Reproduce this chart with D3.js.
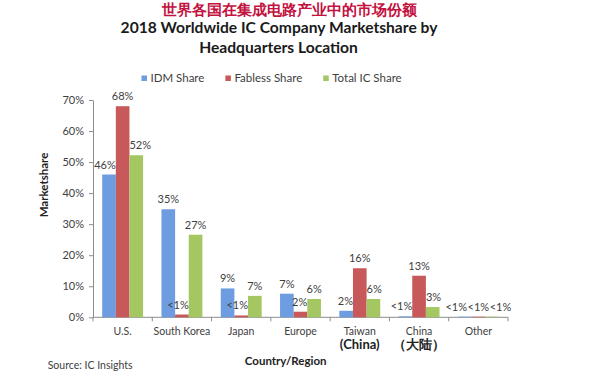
<!DOCTYPE html>
<html>
<head>
<meta charset="utf-8">
<script src="https://cdn.jsdelivr.net/npm/d3@7/dist/d3.min.js"></script>
<style>
  html, body { margin: 0; padding: 0; background: #fff; }
  svg { display: block; }
  text { font-family: Lato, "Liberation Sans", sans-serif; }
</style>
</head>
<body>
<svg id="chart" width="600" height="382"></svg>
<script>
// ---- data ----
const categories = ["U.S.", "South Korea", "Japan", "Europe", "Taiwan", "China", "Other"];
const categorySub = ["", "", "", "", "(China)", "（大陆）", ""];
const seriesNames = ["IDM Share", "Fabless Share", "Total IC Share"];
const idmShare     = [46, 34.8, 9.3, 7.6, 2.1, 0.3, 0.2];
const fablessShare = [68, 0.9, 0.6, 1.8, 15.8, 13.4, 0.2];
const totalShare   = [52.2, 26.6, 6.9, 5.9, 5.9, 3.3, 0.2];
const idmLabels     = ["46%", "35%", "9%", "7%", "2%", "<1%", "<1%"];
const fablessLabels = ["68%", "<1%", "<1%", "2%", "16%", "13%", "<1%"];
const totalLabels   = ["52%", "27%", "7%", "6%", "6%", "3%", "<1%"];
const yTicks = [0, 10, 20, 30, 40, 50, 60, 70];
const colors = ["#6d9de0", "#c8595a", "#a4c762"];

const seriesValues = [idmShare, fablessShare, totalShare];
const seriesLabels = [idmLabels, fablessLabels, totalLabels];

const svg = d3.select("#chart");
const textColor = "#404040";
const axisColor = "#8c8c8c";

function fitWidth(sel, target) {
  const w = sel.node().getComputedTextLength();
  const fs = parseFloat(sel.attr("font-size"));
  sel.attr("font-size", fs * target / w);
}

// ---- titles ----
const tc = svg.append("text")
  .attr("x", 289).attr("y", 15)
  .attr("text-anchor", "middle")
  .attr("font-family", "'Noto Sans CJK SC', sans-serif")
  .attr("font-weight", "bold")
  .attr("font-size", 14)
  .attr("fill", "#c3123f")
  .text("世界各国在集成电路产业中的市场份额");
fitWidth(tc, 252);

const t1 = svg.append("text")
  .attr("x", 279).attr("y", 33)
  .attr("text-anchor", "middle")
  .attr("font-weight", "bold")
  .attr("font-size", 16)
  .attr("fill", "#1a1a1a")
  .text("2018 Worldwide IC Company Marketshare by");
fitWidth(t1, 317);
svg.append("text")
  .attr("x", 278.5).attr("y", 52.7)
  .attr("text-anchor", "middle")
  .attr("font-weight", "bold")
  .attr("font-size", t1.attr("font-size"))
  .attr("fill", "#1a1a1a")
  .text("Headquarters Location");

// ---- legend ----
let lx = 141.5;
seriesNames.forEach((name, i) => {
  svg.append("rect")
    .attr("x", lx).attr("y", 75.5)
    .attr("width", 5.5).attr("height", 5.5)
    .attr("fill", colors[i]);
  const t = svg.append("text")
    .attr("x", lx + 9).attr("y", 82)
    .attr("font-size", 11.5)
    .attr("fill", textColor)
    .text(name);
  lx += 9 + t.node().getComputedTextLength() + 21;
});

// ---- scales ----
const x0 = d3.scaleBand()
  .domain(categories)
  .range([93, 508])
  .paddingInner(0.31)
  .paddingOuter(0.155);
const x1 = d3.scaleBand()
  .domain(d3.range(seriesNames.length))
  .range([0, x0.bandwidth()]);
const y = d3.scaleLinear().domain([0, 70]).range([317.3, 100]);

// ---- axes ----
const yAxis = svg.append("g")
  .attr("transform", "translate(93,0)")
  .call(d3.axisLeft(y).tickValues(yTicks).tickFormat(d => d + "%").tickSize(4).tickSizeOuter(0).tickPadding(5));
yAxis.selectAll("text").attr("font-size", 11).attr("fill", textColor).attr("font-family", "Lato, sans-serif");
yAxis.selectAll("line").attr("stroke", axisColor);
yAxis.select(".domain").attr("stroke", axisColor);

const step = x0.step();
const boundaries = categories.map(c => x0(c) - step * x0.paddingInner() / 2).concat([508]);
const xAxis = svg.append("g");
xAxis.append("line")
  .attr("x1", 93).attr("x2", 508)
  .attr("y1", y(0)).attr("y2", y(0))
  .attr("stroke", axisColor);
xAxis.selectAll("line.tick").data(boundaries).join("line")
  .attr("class", "tick")
  .attr("x1", d => d).attr("x2", d => d)
  .attr("y1", y(0)).attr("y2", y(0) + 4)
  .attr("stroke", axisColor);

categories.forEach((c, i) => {
  const cx = x0(c) + x0.bandwidth() / 2;
  svg.append("text")
    .attr("x", cx).attr("y", 335)
    .attr("text-anchor", "middle")
    .attr("font-size", 10.5)
    .attr("fill", textColor)
    .text(c);
  if (categorySub[i]) {
    svg.append("text")
      .attr("x", cx).attr("y", 349)
      .attr("text-anchor", "middle")
      .attr("font-size", 13)
      .attr("font-weight", "bold")
      .attr("font-family", "'Noto Sans CJK SC', Lato, sans-serif")
      .attr("fill", "#222")
      .text(categorySub[i]);
  }
});

// ---- bars ----
const barData = [];
categories.forEach((c, ci) => {
  seriesValues.forEach((vals, si) => {
    barData.push({ c, ci, si, v: vals[ci], label: seriesLabels[si][ci] });
  });
});
svg.append("g").selectAll("rect").data(barData).join("rect")
  .attr("x", d => x0(d.c) + x1(d.si))
  .attr("y", d => y(d.v))
  .attr("width", x1.bandwidth())
  .attr("height", d => y(0) - y(d.v))
  .attr("fill", d => colors[d.si]);

// ---- data labels ----
const labelG = svg.append("g");
const labels = barData.map(d => {
  const cx = x0(d.c) + x1(d.si) + x1.bandwidth() / 2;
  const t = labelG.append("text")
    .attr("y", y(d.v) - 6)
    .attr("text-anchor", "middle")
    .attr("font-size", 11)
    .attr("fill", textColor)
    .text(d.label);
  const w = t.node().getComputedTextLength();
  return { d, t, cx, w, base: y(d.v) - 6 };
});
// avoid overlapping taller neighbour bars
labels.forEach(L => {
  const left = L.cx - L.w / 2, right = L.cx + L.w / 2;
  [-1, 1].forEach(dir => {
    const nsi = L.d.si + dir;
    if (nsi < 0 || nsi >= seriesNames.length) return;
    const nv = seriesValues[nsi][L.d.ci];
    if (y(nv) >= L.base) return;
    const nx = x0(L.d.c) + x1(nsi);
    if (dir > 0 && right > nx) L.cx = nx - L.w / 2;
    if (dir < 0 && left < nx + x1.bandwidth()) L.cx = nx + x1.bandwidth() + L.w / 2;
  });
});
// spread labels overlapping one another
for (let iter = 0; iter < 20; iter++) {
  for (let a = 0; a < labels.length; a++) {
    for (let b = a + 1; b < labels.length; b++) {
      const A = labels[a], B = labels[b];
      if (Math.abs(A.base - B.base) > 10) continue;
      const minGap = (A.w + B.w) / 2 + 0.5;
      const dx = B.cx - A.cx;
      if (Math.abs(dx) < minGap) {
        const push = (minGap - Math.abs(dx)) / 2;
        const s = dx >= 0 ? 1 : -1;
        A.cx -= s * push; B.cx += s * push;
      }
    }
  }
}
labels.forEach(L => L.t.attr("x", L.cx));

// ---- axis titles ----
svg.append("text")
  .attr("transform", "translate(48,185) rotate(-90)")
  .attr("text-anchor", "middle")
  .attr("font-size", 11.5)
  .attr("font-weight", "bold")
  .attr("fill", "#222")
  .text("Marketshare");

svg.append("text")
  .attr("x", 285.7).attr("y", 364.5)
  .attr("text-anchor", "middle")
  .attr("font-size", 11.5)
  .attr("font-weight", "bold")
  .attr("fill", "#222")
  .text("Country/Region");

svg.append("text")
  .attr("x", 47.7).attr("y", 369)
  .attr("font-size", 10.5)
  .attr("fill", textColor)
  .text("Source: IC Insights");
</script>
</body>
</html>
